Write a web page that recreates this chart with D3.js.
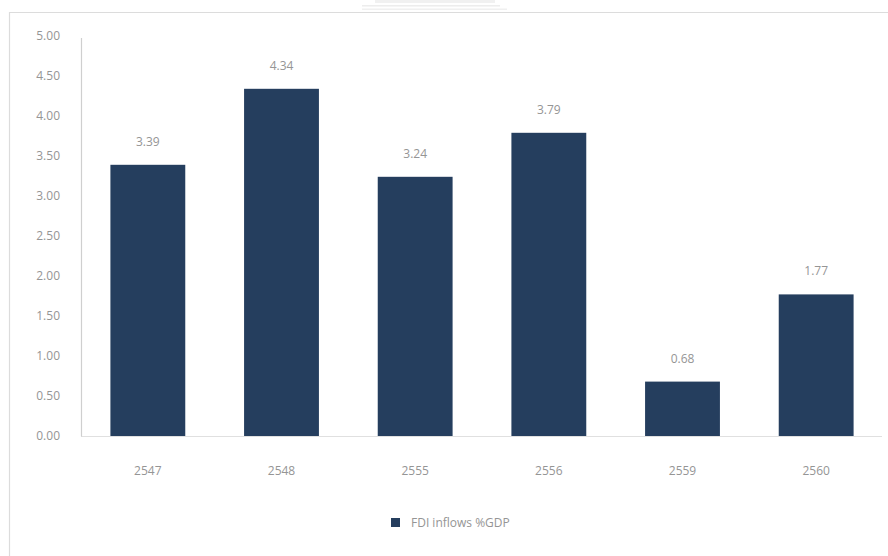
<!DOCTYPE html>
<html>
<head>
<meta charset="utf-8">
<script src="https://cdn.jsdelivr.net/npm/d3@7/dist/d3.min.js"></script>
<style>
  html, body { margin: 0; padding: 0; background: #fff; }
  svg { display: block; }
  text { font-family: "Open Sans", "Noto Sans", sans-serif; fill: #959595; }
</style>
</head>
<body>
<svg id="chart" width="888" height="556"></svg>
<script>
// FDI inflows as a share of GDP, by Thai (B.E.) year
const years = ["2547", "2548", "2555", "2556", "2559", "2560"];
const fdiValues = [3.39, 4.34, 3.24, 3.79, 0.68, 1.77];
const yTicks = [0, 0.5, 1, 1.5, 2, 2.5, 3, 3.5, 4, 4.5, 5];
const seriesName = "FDI inflows %GDP";

const barColor = "#253e5e";
const textColor = "#959595";
const svg = d3.select("#chart");

// chart frame
svg.append("path")
  .attr("d", "M9.5,556 V12.5 H888")
  .attr("fill", "none")
  .attr("stroke", "#dcdcdc")
  .attr("stroke-width", 1.2);

// faint header strip above the frame
const hdr = svg.append("g").attr("opacity", 0.45);
hdr.append("rect").attr("x", 375).attr("y", 0).attr("width", 120).attr("height", 3).attr("fill", "#e2e2e2");
hdr.append("rect").attr("x", 362).attr("y", 5).attr("width", 138).attr("height", 1.5).attr("fill", "#d8d8d8");
hdr.append("rect").attr("x", 362).attr("y", 8.5).attr("width", 145).attr("height", 1.5).attr("fill", "#e0e0e0");

const plotLeft = 81, plotRight = 883, plotTop = 36, plotBottom = 436;

const x = d3.scaleBand()
  .domain(years)
  .range([plotLeft, plotRight])
  .paddingInner(0.44)
  .paddingOuter(0.22);

const y = d3.scaleLinear()
  .domain([0, 5])
  .range([plotBottom, plotTop]);

// baseline
svg.append("line")
  .attr("x1", plotLeft).attr("x2", plotRight - 1)
  .attr("y1", y(0) + 0.5).attr("y2", y(0) + 0.5)
  .attr("stroke", "#e0e0e0").attr("stroke-width", 1.2);

// y axis
const yAxis = svg.append("g")
  .attr("transform", `translate(${plotLeft},0)`)
  .call(d3.axisLeft(y).tickValues(yTicks).tickFormat(d3.format(".2f")).tickSize(0).tickPadding(21));
yAxis.select(".domain").attr("stroke", "#cfcfcf").attr("stroke-width", 1.2)
  .attr("d", `M0.5,${plotTop + 2}V${plotBottom + 0.5}`);
yAxis.selectAll("text").attr("font-size", 12).attr("fill", textColor)
  .attr("font-family", "Open Sans, sans-serif");

// bars
svg.append("g").selectAll("rect")
  .data(years.map((yr, i) => ({ yr, v: fdiValues[i] })))
  .join("rect")
  .attr("x", d => x(d.yr))
  .attr("width", x.bandwidth())
  .attr("y", d => y(d.v))
  .attr("height", d => y(0) - y(d.v))
  .attr("fill", barColor);

// value labels
svg.append("g").selectAll("text")
  .data(years.map((yr, i) => ({ yr, v: fdiValues[i] })))
  .join("text")
  .attr("x", d => x(d.yr) + x.bandwidth() / 2)
  .attr("y", d => y(d.v) - 19)
  .attr("text-anchor", "middle")
  .attr("font-size", 12)
  .text(d => d.v.toFixed(2));

// x axis labels
const xAxis = svg.append("g")
  .attr("transform", `translate(0,${plotBottom})`)
  .call(d3.axisBottom(x).tickSize(0).tickPadding(30));
xAxis.select(".domain").remove();
xAxis.selectAll("text").attr("font-size", 12).attr("fill", textColor)
  .attr("font-family", "Open Sans, sans-serif");

// legend
const legend = svg.append("g").attr("transform", "translate(391,518)");
legend.append("rect").attr("width", 9).attr("height", 9).attr("fill", barColor);
legend.append("text").attr("x", 20).attr("y", 9).attr("font-size", 12).text(seriesName);
</script>
</body>
</html>
